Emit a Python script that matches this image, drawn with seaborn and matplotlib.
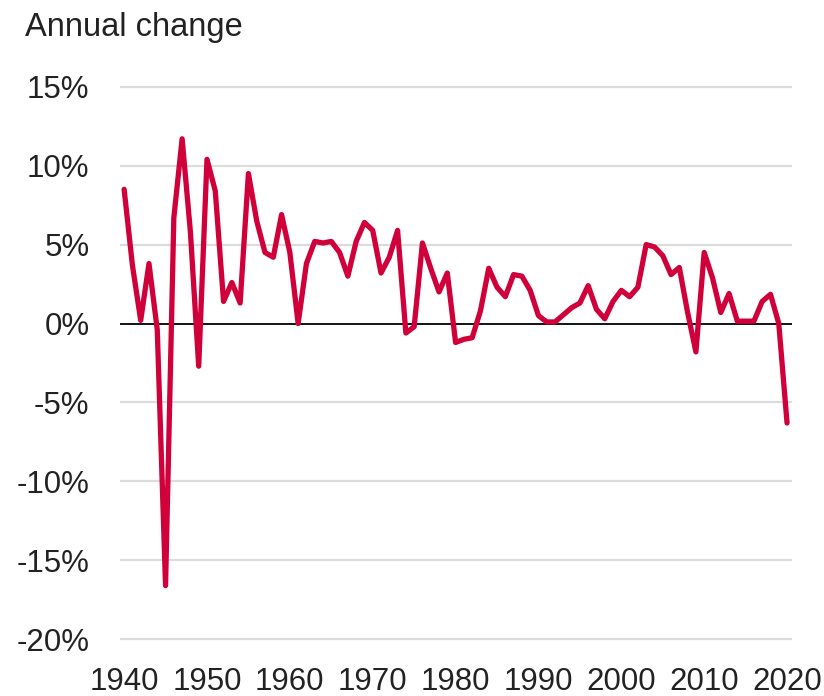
import matplotlib.pyplot as plt
import pandas as pd
import seaborn as sns

# Annual change, in percent
years = list(range(1940, 2021))
change = [8.5, 3.7, 0.2, 3.8, -0.4, -16.6, 6.7, 11.7, 5.8, -2.7,
          10.4, 8.4, 1.4, 2.6, 1.3, 9.5, 6.5, 4.5, 4.2, 6.9,
          4.5, 0.0, 3.8, 5.2, 5.1, 5.2, 4.5, 3.0, 5.2, 6.4,
          5.9, 3.2, 4.2, 5.9, -0.6, -0.2, 5.1, 3.5, 2.0, 3.2,
          -1.2, -1.0, -0.9, 0.8, 3.5, 2.3, 1.7, 3.1, 3.0, 2.1,
          0.5, 0.1, 0.1, 0.55, 1.0, 1.3, 2.4, 0.9, 0.3, 1.4,
          2.1, 1.7, 2.3, 5.0, 4.85, 4.3, 3.1, 3.55, 0.7, -1.8,
          4.5, 2.9, 0.7, 1.9, 0.15, 0.15, 0.15, 1.4, 1.85, 0.0,
          -6.3]
y_ticks = [15, 10, 5, 0, -5, -10, -15, -20]
x_ticks = [1940, 1950, 1960, 1970, 1980, 1990, 2000, 2010, 2020]

df = pd.DataFrame({'year': years, 'change': change})

sns.set_style('white')
plt.rcParams['font.family'] = ['Liberation Sans', 'DejaVu Sans']

fig = plt.figure(figsize=(8.24, 6.96), dpi=100)
ax = fig.add_axes([0.1456, 0.0792, 0.8156, 0.7985])

for t in y_ticks:
    if t != 0:
        ax.axhline(t, color='#dcdcdc', linewidth=1.6, zorder=0)
ax.axhline(0, color='black', linewidth=1.3, zorder=1)

sns.lineplot(data=df, x='year', y='change', ax=ax, color='#d0003a',
             linewidth=3.8, solid_capstyle='round', solid_joinstyle='round', zorder=2)

ax.set_xlim(1939.5, 2020.6)
ax.set_ylim(-20.1, 15.1)
ax.set_yticks(y_ticks)
ax.set_yticklabels([f'{t}%' for t in y_ticks])
ax.set_xticks(x_ticks)
ax.tick_params(axis='both', length=0, labelsize=22.5, colors='#222222')
ax.tick_params(axis='y', pad=22)
ax.tick_params(axis='x', pad=19)
ax.set_xlabel('')
ax.set_ylabel('')
sns.despine(ax=ax, left=True, bottom=True)

fig.text(0.03, 0.948, 'Annual change', fontsize=23.5,
         color='#222222', ha='left', va='baseline')

fig.savefig('out.png', dpi=100)
